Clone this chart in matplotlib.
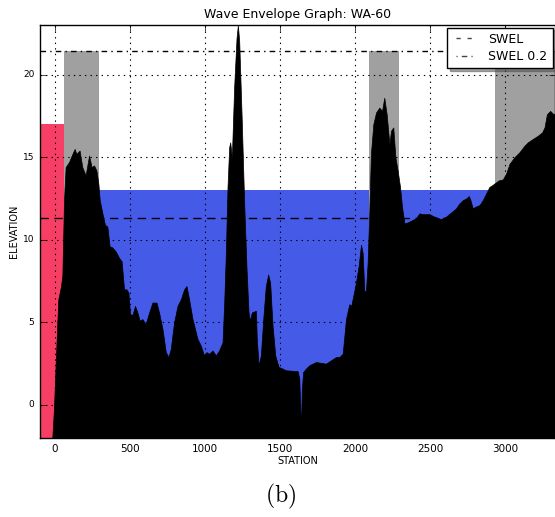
import matplotlib
matplotlib.use("Agg")
import matplotlib.pyplot as plt
from matplotlib.lines import Line2D

# ground profile (station, elevation)
station = [-18, -7, 4, 22, 38, 49, 60, 71, 93, 116, 131, 142, 164, 182, 204, 227,
           244, 260, 276, 289, 298, 316, 333, 349, 364, 380, 404, 427, 444, 460,
           476, 489, 500, 516, 533, 549, 564, 582, 604, 627, 649, 676, 693, 716,
           738, 756, 771, 793, 816, 838, 860, 876, 893, 916, 949, 971, 993, 1009,
           1027, 1049, 1071, 1093, 1116, 1127, 1138, 1149, 1160, 1167, 1178, 1193,
           1209, 1218, 1227, 1244, 1260, 1276, 1289, 1298, 1311, 1338, 1344, 1356,
           1371, 1387, 1404, 1420, 1433, 1449, 1467, 1489, 1516, 1538, 1582, 1616,
           1627, 1638, 1644, 1653, 1671, 1693, 1738, 1804, 1838, 1871, 1893, 1916,
           1938, 1960, 1973, 2000, 2022, 2038, 2049, 2060, 2071, 2082, 2093, 2104,
           2120, 2138, 2160, 2178, 2193, 2209, 2227, 2238, 2253, 2267, 2282, 2298,
           2311, 2327, 2349, 2382, 2404, 2427, 2449, 2493, 2527, 2571, 2604, 2638,
           2671, 2693, 2716, 2738, 2756, 2767, 2782, 2800, 2827, 2849, 2871, 2893,
           2911, 2933, 2956, 2982, 3004, 3027, 3060, 3093, 3127, 3149, 3182, 3216,
           3244, 3260, 3276, 3298, 3320, 3340]
elevation = [-2.0, -0.24, 2.4, 6.4, 7.1, 7.8, 12.4, 14.4, 14.7, 15.2, 15.5, 15.2, 15.4,
             14.4, 13.9, 15.1, 14.4, 14.5, 14.2, 13.4, 12.4, 11.6, 10.9, 10.8, 9.6,
             9.55, 9.3, 8.9, 8.7, 7.0, 7.0, 6.8, 5.5, 5.45, 6.0, 5.6, 5.1, 5.2, 4.9,
             5.6, 6.2, 6.2, 5.6, 4.6, 3.2, 2.9, 3.4, 5.0, 6.0, 6.4, 7.0, 7.2, 6.4,
             5.2, 4.0, 3.6, 3.0, 3.2, 3.1, 3.3, 3.0, 3.3, 3.8, 6.2, 9.2, 13.2, 15.6,
             15.9, 15.0, 19.2, 22.2, 23.0, 22.0, 17.2, 12.2, 8.2, 5.6, 5.1, 5.6, 5.7,
             4.0, 2.4, 3.0, 5.2, 7.2, 7.9, 7.4, 4.8, 3.0, 2.3, 2.2, 2.1, 2.07, 2.05,
             1.6, -1.5, 1.0, 2.0, 2.2, 2.4, 2.6, 2.5, 2.7, 2.9, 2.9, 3.1, 5.2, 6.1,
             6.0, 7.2, 8.4, 9.7, 9.2, 6.9, 6.9, 8.6, 11.6, 15.2, 17.0, 17.7, 18.0,
             17.8, 18.6, 17.6, 15.8, 16.6, 16.8, 15.0, 14.2, 13.2, 12.0, 11.0, 11.05,
             11.2, 11.3, 11.6, 11.55, 11.55, 11.4, 11.25, 11.4, 11.65, 11.9, 12.2,
             12.4, 12.5, 12.65, 12.4, 11.9, 12.0, 12.1, 12.4, 12.8, 13.2, 13.3, 13.45,
             13.6, 13.65, 14.0, 14.6, 15.0, 15.3, 15.7, 15.9, 16.1, 16.3, 16.5, 16.8,
             17.6, 17.8, 17.6, 17.7]

# wave envelope zones
zone_start = [-120, 60, 293, 2093, 2293, 2933]
zone_end = [60, 293, 2093, 2293, 2933, 3400]
zone_top = [17.0, 21.4, 13.0, 21.4, 13.0, 21.4]
zone_kind = ["runup", "overtop", "water", "overtop", "water", "overtop"]

swel = 11.33
swel_02 = 21.4
line_labels = ["SWEL", "SWEL 0.2"]

zone_colors = {"runup": "#F73F66", "overtop": "#A0A0A0", "water": "#465AE8"}

plt.style.use("classic")
plt.rcParams["mathtext.fontset"] = "cm"

fig = plt.figure(figsize=(5.55, 5.17), dpi=100, facecolor="white")
ax = fig.add_axes([0.072, 0.1528, 0.928, 0.7988])
ax.set_facecolor("white")

ybot = -2.0
for s, e, t, k in zip(zone_start, zone_end, zone_top, zone_kind):
    ax.fill_between([s, e], ybot, t, color=zone_colors[k], linewidth=0)

ax.fill_between(station, ybot, elevation, color="black", linewidth=0.5, edgecolor="black")

ax.axhline(swel, color="black", linestyle=(0, (6, 4)), linewidth=1)
ax.axhline(swel_02, color="black", linestyle=(0, (4, 3, 1, 3)), linewidth=1)

ax.set_xlim(-100, 3330)
ax.set_ylim(-2, 23)
ax.set_xticks([0, 500, 1000, 1500, 2000, 2500, 3000])
ax.set_yticks([0, 5, 10, 15, 20])
ax.tick_params(axis="x", labelsize=7.5)
ax.tick_params(axis="y", labelsize=6.5)
ax.grid(True, color="black", linestyle=":", linewidth=0.8)

ax.set_title("Wave Envelope Graph: WA-60", fontsize=9)
ax.set_xlabel("STATION", fontsize=7, labelpad=2)
ax.set_ylabel("ELEVATION", fontsize=7, labelpad=3)

# legend proxies with short dashes, like the original legend
handles = [
    Line2D([0, 1], [0, 0], color="#444444", linewidth=1, linestyle=(0, (3, 5))),
    Line2D([0, 1], [0, 0], color="#444444", linewidth=1, linestyle=(0, (0.8, 3, 4, 3))),
]
leg = ax.legend(handles, line_labels, loc="upper right", fontsize=9, shadow=True,
                fancybox=False, handlelength=2.0, handletextpad=0.9,
                labelspacing=0.35, borderaxespad=0.2, numpoints=2)
leg.get_frame().set_edgecolor("black")

fig.text(0.505, 0.04, r"$\mathrm{(b)}$", fontsize=17, ha="center", va="center")

fig.savefig("out.png", dpi=100)
